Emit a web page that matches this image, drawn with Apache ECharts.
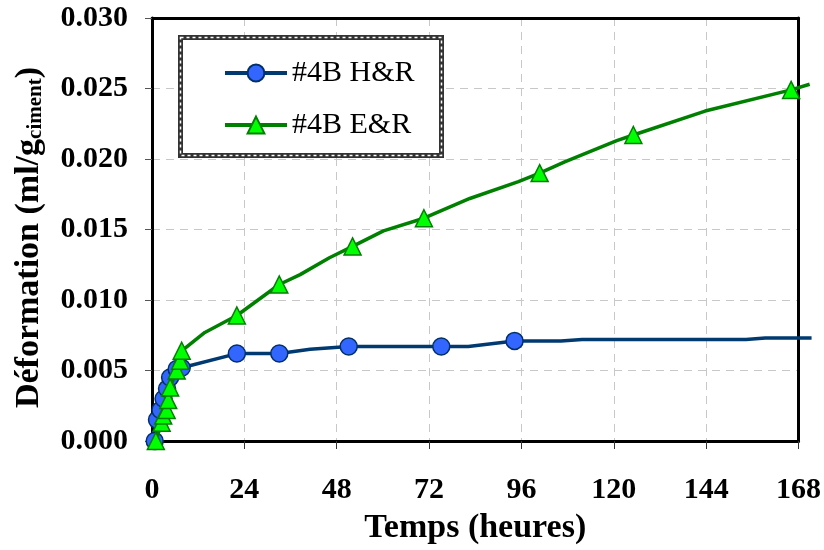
<!DOCTYPE html>
<html>
<head>
<meta charset="utf-8">
<script src="https://cdn.jsdelivr.net/npm/echarts@6/dist/echarts.min.js"></script>
<style>html,body{margin:0;padding:0;background:#fff}#c{width:824px;height:550px}</style>
</head>
<body>
<div id="c"></div>
<script>
// Data (hours, ml/g ciment)
const xTicks = [0, 24, 48, 72, 96, 120, 144, 168];
const yTicks = [0, 0.005, 0.010, 0.015, 0.020, 0.025, 0.030];
const dataHourMax = 171;   // curves run slightly past the 168 h frame
const seriesNames = ['#4B H&R', '#4B E&R'];

// #4B H&R : points with markers
const hrMarkHours  = [0.7, 1.3, 2.2, 3.0, 3.9, 4.7, 6.4, 7.7, 22, 33, 51, 75, 94];
const hrMarkValues = [0.0000, 0.0015, 0.0022, 0.0030, 0.0037, 0.0045, 0.0051, 0.0052, 0.0062, 0.0062, 0.0067, 0.0067, 0.0071];
// #4B H&R : curve points without markers
const hrPathHours  = [41, 82, 106, 111.5, 154, 159, 171];
const hrPathValues = [0.0065, 0.0067, 0.0071, 0.0072, 0.0072, 0.0073, 0.0073];

// #4B E&R : points with markers
const erMarkHours  = [1.0, 2.5, 2.9, 3.8, 4.2, 4.7, 6.4, 7.3, 7.7, 22, 33, 52, 70.5, 100.5, 124.8, 165.7];
const erMarkValues = [0.0000, 0.0013, 0.0018, 0.0022, 0.0029, 0.0038, 0.0050, 0.0057, 0.0064, 0.0089, 0.0111, 0.0138, 0.0158, 0.0190, 0.0217, 0.0249];
// #4B E&R : curve points without markers
const erPathHours  = [13.7, 38.4, 46, 60, 82.4, 95, 107, 120.5, 143.4, 170.5];
const erPathValues = [0.0077, 0.0118, 0.0130, 0.0149, 0.0172, 0.0184, 0.0198, 0.0213, 0.0234, 0.0253];

function buildData(mh, mv, ph, pv) {
  const pts = [];
  mh.forEach((h, i) => pts.push({ value: [h, mv[i]] }));
  ph.forEach((h, i) => pts.push({ value: [h, pv[i]], symbol: 'none' }));
  pts.sort((a, b) => a.value[0] - b.value[0]);
  return pts;
}

const W = 824, gLeft = 152, gRight = 24, gTop = 18, gBottom = 109;
const xMin = xTicks[0], xMax = xTicks[xTicks.length - 1];
const yMin = yTicks[0], yMax = yTicks[yTicks.length - 1];
const plotW = W - gLeft - gRight;
// wider (invisible) grid with the same scale so the curves may overrun the frame
const extRight = W - gLeft - plotW * (dataHourMax - xMin) / (xMax - xMin);

const serif = '"Liberation Serif", "Times New Roman", serif';
const hidden = { show: false };
const frameAxis = { show: true, axisLine: { show: true, onZero: false, lineStyle: { color: '#000', width: 3 } }, axisTick: { show: false }, axisLabel: { show: false }, splitLine: { show: false } };
const chart = echarts.init(document.getElementById('c'), null, { renderer: 'canvas' });
chart.setOption({
  animation: false,
  backgroundColor: '#fff',
  grid: [
    { left: gLeft, right: gRight, top: gTop, bottom: gBottom },
    { left: gLeft, right: extRight, top: gTop, bottom: gBottom }
  ],
  legend: {
    orient: 'vertical', left: 218, top: 53,
    itemWidth: 62, itemHeight: 21, itemGap: 22,
    data: seriesNames,
    lineStyle: { width: 4 },
    textStyle: { fontFamily: serif, fontSize: 30, color: '#000' }
  },
  graphic: [
    { type: 'rect', z: 3, shape: { x: 180.5, y: 37.5, width: 261, height: 118 }, style: { fill: '#fff', stroke: '#333', lineWidth: 5 } },
    { type: 'rect', z: 3, shape: { x: 180.5, y: 37.5, width: 261, height: 118 }, style: { fill: null, stroke: '#fff', lineWidth: 1.5, lineDash: [3, 3] } }
  ],
  xAxis: [{
    gridIndex: 0, type: 'value', min: xMin, max: xMax, interval: 24,
    axisLine: { show: true, lineStyle: { color: '#000', width: 3 } },
    axisTick: { show: true, length: 8, lineStyle: { color: '#333', width: 1 } },
    axisLabel: { margin: 34, fontFamily: serif, fontWeight: 'bold', fontSize: 30, color: '#000' },
    splitLine: { show: true, lineStyle: { color: '#c8c8c8', type: [8, 6], width: 1 } },
    name: 'Temps (heures)', nameLocation: 'middle', nameGap: 70,
    nameTextStyle: { fontFamily: serif, fontWeight: 'bold', fontSize: 34, color: '#000' }
  },
  Object.assign({ gridIndex: 0, type: 'value', position: 'top', min: xMin, max: xMax }, frameAxis),
  { gridIndex: 1, type: 'value', min: xMin, max: dataHourMax, show: false, axisLine: hidden, axisTick: hidden, axisLabel: hidden, splitLine: hidden }
  ],
  yAxis: [{
    gridIndex: 0, type: 'value', min: yMin, max: yMax, interval: 0.005,
    axisLine: { show: true, lineStyle: { color: '#000', width: 3 } },
    axisTick: { show: true, length: 7, lineStyle: { color: '#555', width: 1 } },
    axisLabel: { margin: 24, fontFamily: serif, fontWeight: 'bold', fontSize: 30, color: '#000', formatter: v => v.toFixed(3) },
    splitLine: { show: true, lineStyle: { color: '#c8c8c8', type: [8, 6], width: 1 } },
    name: '{a|Déformation (ml/g}{b|ciment}{a|)}', nameLocation: 'middle', nameGap: 106,
    nameTextStyle: {
      padding: [0, 16, 0, 0],
      rich: {
        a: { fontFamily: serif, fontWeight: 'bold', fontSize: 34, color: '#000', lineHeight: 38, verticalAlign: 'bottom' },
        b: { fontFamily: serif, fontWeight: 'bold', fontSize: 21, color: '#000', lineHeight: 22, verticalAlign: 'bottom' }
      }
    }
  },
  Object.assign({ gridIndex: 0, type: 'value', position: 'right', min: yMin, max: yMax }, frameAxis),
  { gridIndex: 1, type: 'value', min: yMin, max: yMax, show: false, axisLine: hidden, axisTick: hidden, axisLabel: hidden, splitLine: hidden }
  ],
  series: [
    {
      name: seriesNames[0], type: 'line', xAxisIndex: 2, yAxisIndex: 2, clip: false, z: 5,
      data: buildData(hrMarkHours, hrMarkValues, hrPathHours, hrPathValues),
      symbol: 'circle', symbolSize: 17,
      lineStyle: { color: '#003a70', width: 3.5 },
      itemStyle: { color: '#3366ff', borderColor: '#00306a', borderWidth: 1.5 }
    },
    {
      name: seriesNames[1], type: 'line', xAxisIndex: 2, yAxisIndex: 2, clip: false, z: 6,
      data: buildData(erMarkHours, erMarkValues, erPathHours, erPathValues),
      symbol: 'triangle', symbolSize: 17,
      lineStyle: { color: '#008000', width: 3.5 },
      itemStyle: { color: '#00ff00', borderColor: '#008000', borderWidth: 1.5 }
    }
  ]
});
</script>
</body>
</html>
